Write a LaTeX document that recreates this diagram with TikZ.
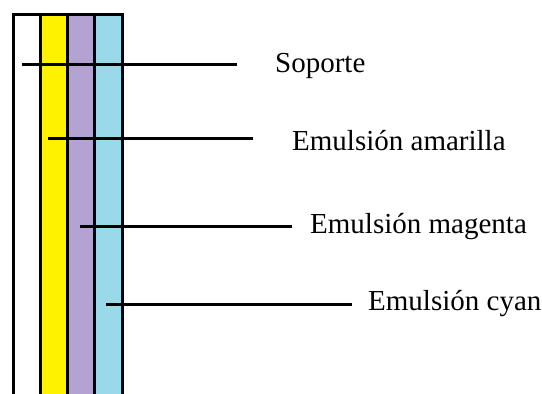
\documentclass[tikz,border=0pt]{standalone}
\usepackage{fontspec}
\setmainfont{Liberation Serif}
\definecolor{ylw}{HTML}{FFF200}
\definecolor{prp}{HTML}{B4A2D2}
\definecolor{cyn}{HTML}{99D9EA}
\begin{document}
\begin{tikzpicture}[x=1pt,y=-1pt,
  strip/.style={draw=black,line width=3pt},
  leader/.style={draw=black,line width=3pt},
  lbl/.style={anchor=base west,inner sep=0pt,font=\fontsize{29}{32}\selectfont}]
\useasboundingbox (0,0) rectangle (542,394);
% strips
\filldraw[strip,fill=white] (13,14) rectangle (40,410);
\filldraw[strip,fill=ylw] (40,14) rectangle (67,410);
\filldraw[strip,fill=prp] (67,14) rectangle (94,410);
\filldraw[strip,fill=cyn] (94,14) rectangle (122,410);
% labels
\node[lbl] (sop) at (275,72) {Soporte};
\node[lbl] (ama) at (292,150) {Emulsión amarilla};
\node[lbl] (mag) at (310,233) {Emulsión magenta};
\node[lbl] (cya) at (368,310) {Emulsión cyan};
% leader ends
\coordinate (s0) at (22,64);   \coordinate (s1) at (237,64);
\coordinate (a0) at (48,138);  \coordinate (a1) at (253,138);
\coordinate (m0) at (80,226);  \coordinate (m1) at (292,226);
\coordinate (c0) at (106,304); \coordinate (c1) at (352,304);
\draw[leader] (s0) -- (s1);
\draw[leader] (a0) -- (a1);
\draw[leader] (m0) -- (m1);
\draw[leader] (c0) -- (c1);
\end{tikzpicture}
\end{document}
